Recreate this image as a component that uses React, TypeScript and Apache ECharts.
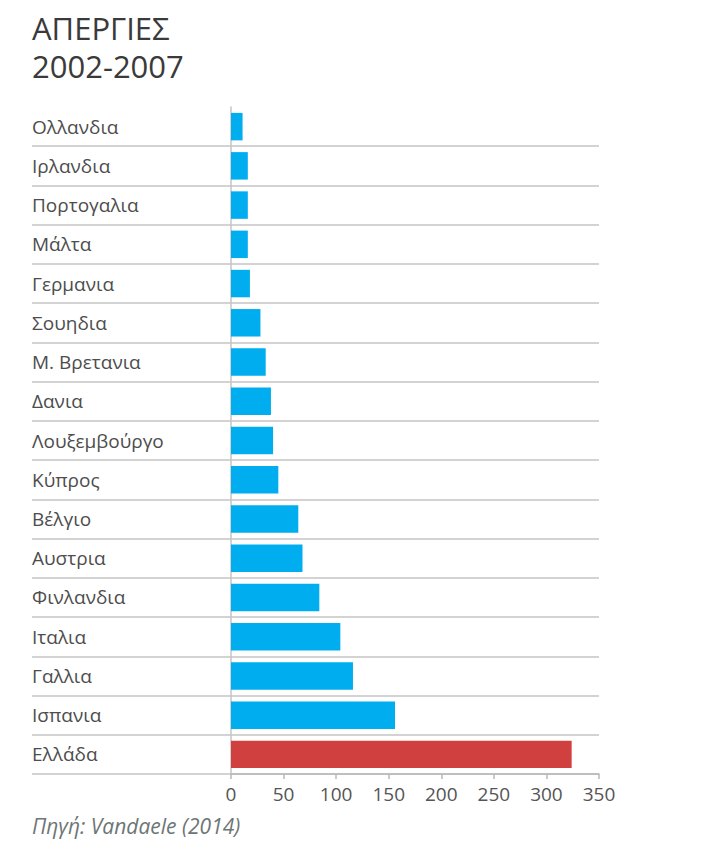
import React, { useEffect, useRef } from "react";
import * as echarts from "echarts";

const categories = [
  "Ολλανδια", "Ιρλανδια", "Πορτογαλια", "Μάλτα", "Γερμανια", "Σουηδια",
  "Μ. Βρετανια", "Δανια", "Λουξεμβούργο", "Κύπρος", "Βέλγιο", "Αυστρια",
  "Φινλανδια", "Ιταλια", "Γαλλια", "Ισπανια", "Ελλάδα",
];
const values = [11, 16, 16, 16, 18, 28, 33, 38, 40, 45, 64, 68, 84, 104, 116, 156, 324];
const highlight = "Ελλάδα";
const xTicks = [0, 50, 100, 150, 200, 250, 300, 350];
const titleLines = ["ΑΠΕΡΓΙΕΣ", "2002-2007"];
const sourceText = "Πηγή: Vandaele (2014)";

const FONT = "'Open Sans', 'Noto Sans', sans-serif";
const GRID_LEFT = 231;
const LABEL_LEFT = 32;

export default function App() {
  const ref = useRef<HTMLDivElement>(null);
  useEffect(() => {
    if (!ref.current) return;
    const chart = echarts.init(ref.current, null, { renderer: "svg" });
    chart.setOption({
      animation: false,
      backgroundColor: "#ffffff",
      title: titleLines.map((t, i) => ({
        text: t,
        left: LABEL_LEFT - 4,
        top: 8 + i * 38,
        padding: 4,
        textStyle: {
          fontFamily: FONT,
          fontSize: 31,
          fontWeight: "normal",
          color: "#3a3a3a",
        },
      })),
      graphic: [
        {
          type: "text",
          left: LABEL_LEFT,
          top: 815,
          style: {
            text: sourceText,
            font: `italic 21px ${FONT}`,
            fill: "#6d7575",
          },
        },
      ],
      grid: { left: GRID_LEFT, right: 107, top: 107, bottom: 78 },
      xAxis: {
        type: "value",
        min: xTicks[0],
        max: xTicks[xTicks.length - 1],
        interval: 50,
        axisLine: { show: true, lineStyle: { color: "#b8b8b8", width: 1.5 } },
        axisTick: { show: true, length: 5, lineStyle: { color: "#b8b8b8", width: 1.5 } },
        axisLabel: { color: "#555555", fontFamily: FONT, fontSize: 19, margin: 10 },
        splitLine: { show: false },
      },
      yAxis: {
        type: "category",
        inverse: true,
        data: categories,
        axisLine: { show: true, lineStyle: { color: "#c4c4c4", width: 1.5 } },
        axisTick: {
          show: true,
          length: GRID_LEFT - LABEL_LEFT,
          interval: (i: number) => i !== 0,
          lineStyle: { color: "#c4c4c4", width: 1.5 },
        },
        splitLine: {
          show: true,
          interval: (i: number) => i !== 0,
          lineStyle: { color: "#c4c4c4", width: 1.5 },
        },
        axisLabel: {
          align: "left",
          margin: GRID_LEFT - LABEL_LEFT,
          color: "#4d4d4d",
          fontFamily: FONT,
          fontSize: 19,
        },
      },
      series: [
        {
          type: "bar",
          barCategoryGap: "30%",
          data: values.map((v, i) => ({
            value: v,
            itemStyle: { color: categories[i] === highlight ? "#d0403f" : "#00aeef" },
          })),
        },
      ],
    });
    return () => chart.dispose();
  }, []);
  return (
    <div
      ref={ref}
      style={{ position: "fixed", left: 0, top: 0, width: 706, height: 852 }}
    />
  );
}
